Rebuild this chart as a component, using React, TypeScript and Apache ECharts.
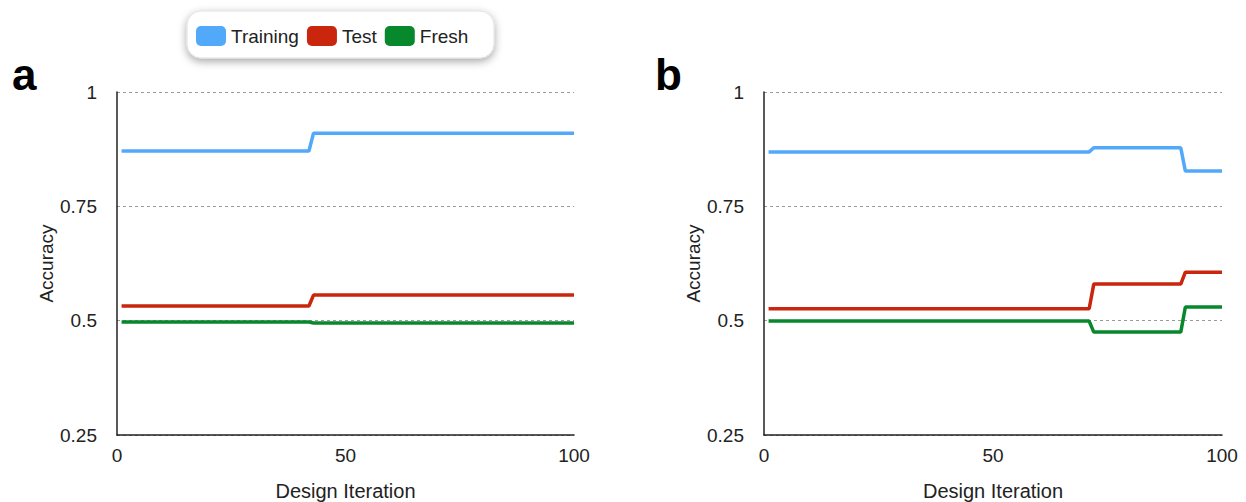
import React, { useEffect, useRef } from "react";
import * as echarts from "echarts";

const seriesNames = ["Training", "Test", "Fresh"];
const colors = ["#52a8f9", "#c9260d", "#08882d"];

// Panel a: breakpoints (iteration, accuracy)
const aIter = [1, 42, 43, 100];
const aTraining = [0.871, 0.871, 0.91, 0.91];
const aTest = [0.532, 0.532, 0.556, 0.556];
const aFresh = [0.497, 0.497, 0.495, 0.495];

// Panel b: breakpoints
const bIter = [1, 71, 72, 91, 92, 100];
const bTraining = [0.869, 0.869, 0.878, 0.878, 0.827, 0.827];
const bTest = [0.526, 0.526, 0.58, 0.58, 0.606, 0.606];
const bFresh = [0.499, 0.499, 0.475, 0.475, 0.53, 0.53];

const yTicks = [0.25, 0.5, 0.75, 1];
const xTicks = [0, 50, 100];

const FONT = "'Liberation Sans', Arial, Helvetica, sans-serif";

function pairs(xs: number[], ys: number[]) {
  return xs.map((x, i) => [x, ys[i]]);
}

export default function App() {
  const ref = useRef<HTMLDivElement>(null);
  useEffect(() => {
    if (!ref.current) return;
    const chart = echarts.init(ref.current, undefined, { renderer: "svg" });
    const mkX = (gridIndex: number) => ({
      type: "value" as const,
      gridIndex,
      min: xTicks[0],
      max: xTicks[xTicks.length - 1],
      interval: 50,
      name: "Design Iteration",
      nameLocation: "middle" as const,
      nameGap: 46,
      nameTextStyle: { fontFamily: FONT, fontSize: 20, color: "#222" },
      axisLine: { show: true, lineStyle: { color: "#222", width: 1.5 } },
      axisTick: { show: false },
      splitLine: { show: false },
      axisLabel: { fontFamily: FONT, fontSize: 19, color: "#222", margin: 11 },
    });
    const mkY = (gridIndex: number) => ({
      type: "value" as const,
      gridIndex,
      min: yTicks[0],
      max: yTicks[yTicks.length - 1],
      interval: 0.25,
      name: "Accuracy",
      nameLocation: "middle" as const,
      nameGap: 57,
      nameTextStyle: { fontFamily: FONT, fontSize: 19, color: "#222" },
      axisLine: { show: true, lineStyle: { color: "#222", width: 1.5 } },
      axisTick: { show: false },
      splitLine: {
        show: true,
        lineStyle: { color: "#9a9a9a", width: 1, type: [3, 3] as any },
      },
      axisLabel: { fontFamily: FONT, fontSize: 19, color: "#222", margin: 20 },
    });
    const line = (name: string, color: string, data: number[][], idx: number) => ({
      type: "line" as const,
      name,
      xAxisIndex: idx,
      yAxisIndex: idx,
      data,
      showSymbol: false,
      symbol: "none",
      lineStyle: { color, width: 3.5 },
      itemStyle: { color },
      z: 3,
    });
    chart.setOption({
      animation: false,
      backgroundColor: "#ffffff",
      grid: [
        { left: 117, right: 672, top: 92, bottom: 67, outerBoundsMode: "none", containLabel: false },
        { left: 764, right: 24, top: 92, bottom: 67, outerBoundsMode: "none", containLabel: false },
      ],
      xAxis: [mkX(0), mkX(1)],
      yAxis: [mkY(0), mkY(1)],
      legend: {
        data: seriesNames,
        left: 196,
        top: 26,
        padding: 0,
        itemWidth: 30,
        itemHeight: 20,
        itemGap: 8,
        icon: "roundRect",
        itemStyle: { borderWidth: 0 },
        textStyle: { fontFamily: FONT, fontSize: 19, color: "#222", padding: [0, 0, 0, 0] },
        z: 10,
      },
      graphic: [
        {
          type: "rect",
          shape: { x: 187, y: 11, width: 307, height: 47, r: 14 },
          style: {
            fill: "#ffffff",
            stroke: "#e0e0e0",
            lineWidth: 1,
            shadowBlur: 8,
            shadowOffsetY: 3,
            shadowColor: "rgba(0,0,0,0.35)",
          },
          z: 1,
        },
        {
          type: "text",
          left: 12,
          top: 52,
          style: { text: "a", font: `bold 44px ${FONT}`, fill: "#000" },
        },
        {
          type: "text",
          left: 655,
          top: 52,
          style: { text: "b", font: `bold 44px ${FONT}`, fill: "#000" },
        },
      ],
      series: [
        line(seriesNames[0], colors[0], pairs(aIter, aTraining), 0),
        line(seriesNames[1], colors[1], pairs(aIter, aTest), 0),
        line(seriesNames[2], colors[2], pairs(aIter, aFresh), 0),
        line(seriesNames[0], colors[0], pairs(bIter, bTraining), 1),
        line(seriesNames[1], colors[1], pairs(bIter, bTest), 1),
        line(seriesNames[2], colors[2], pairs(bIter, bFresh), 1),
      ],
    });
    return () => chart.dispose();
  }, []);
  return (
    <div
      ref={ref}
      style={{ position: "fixed", left: 0, top: 0, width: 1246, height: 502 }}
    />
  );
}
